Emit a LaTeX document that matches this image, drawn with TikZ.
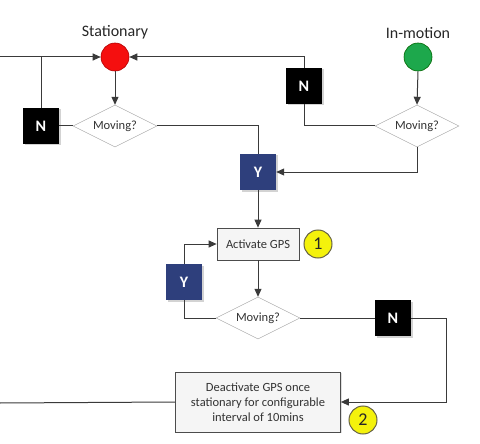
\documentclass[tikz,border=0pt]{standalone}
\usepackage{fontspec}
\setmainfont{Carlito}
\usetikzlibrary{shapes.geometric,arrows.meta,shadows}
\definecolor{linec}{HTML}{3A3A3A}
\definecolor{navyb}{HTML}{2E3F7C}
\definecolor{redc}{HTML}{F50F0F}
\definecolor{greenc}{HTML}{1DA84C}
\definecolor{yellc}{HTML}{F4F20C}
\tikzset{
  conn/.style={draw=linec, line width=1pt},
  arr/.style={conn, -{Triangle[length=8pt,width=7pt]}},
  statecirc/.style={circle, minimum size=28pt, inner sep=0pt, line width=0.6pt},
  decision/.style={diamond, aspect=2, minimum width=84pt, minimum height=42pt, inner sep=0pt,
    draw=gray!70, fill=white, font=\fontsize{12.5}{15}\selectfont, text=black!80},
  answer/.style={rectangle, minimum size=36pt, inner sep=0pt, text=white,
    font=\fontsize{16}{18}\selectfont\bfseries,
    drop shadow={shadow xshift=1.5pt, shadow yshift=-1.5pt, opacity=0.35}},
  nbox/.style={answer, fill=black},
  ybox/.style={answer, fill=navyb},
  process/.style={rectangle, draw=black!70, fill=black!4, line width=0.7pt,
    font=\fontsize{12.5}{15}\selectfont, text=black!80, align=center, inner sep=0pt,
    drop shadow={shadow xshift=1pt, shadow yshift=-1pt, opacity=0.25}},
  badge/.style={circle, minimum size=28pt, inner sep=0pt, fill=yellc, draw=black!55!yellow!70!black,
    line width=1pt, font=\fontsize{18}{20}\selectfont, text=black!85},
  title/.style={font=\fontsize{16}{19}\selectfont, text=black!85}
}
\begin{document}
\begin{tikzpicture}[x=1pt,y=-1pt]
\useasboundingbox (0,0) rectangle (480,444);
% states
\node[statecirc, fill=redc, draw=red!70!black] (stat) at (115,57) {};
\node[title] (statlbl) at (115,32) {Stationary};
\node[statecirc, fill=greenc, draw=green!40!black] (inmo) at (418,57) {};
\node[title] (inmolbl) at (418,33) {In-motion};
% decisions
\node[decision] (d1) at (115,126) {Moving?};
\node[decision] (d2) at (417,126) {Moving?};
\node[decision] (d3) at (258,318) {Moving?};
% answers
\node[nbox] (n1) at (41,126) {N};
\node[nbox] (n2) at (304,86) {N};
\node[nbox] (n3) at (393,318) {N};
\node[ybox] (y1) at (258,172) {Y};
\node[ybox] (y2) at (184,282) {Y};
% processes
\node[process, minimum width=82pt, minimum height=32pt] (act) at (258,244) {Activate GPS};
\node[badge] (b1) at (318,244) {1};
\node[process, minimum width=165pt, minimum height=60pt] (deact) at (258,402)
  {Deactivate GPS once\\stationary for configurable\\interval of 10mins};
\node[badge] (b2) at (363,420) {2};
% free ends
\coordinate (l1) at (0,57);
\coordinate (l2) at (0,403);
\coordinate (rc) at (446,318);
% connectors
\draw[arr] (l1) -- (stat.west);
\draw[conn] (n1.north) -- (n1.north |- stat);
\draw[conn] (n1.east) -- (d1.west);
\draw[arr] (stat.south) -- (d1.north);
\draw[conn] (d1.east) -| (y1.north);
\draw[arr] (n2.north) |- (stat.east);
\draw[conn] (d2.west) -| (n2.south);
\draw[arr] (inmo.south) -- (d2.north);
\draw[arr] (d2.south) |- (y1.east);
\draw[arr] (y1.south) -- (act.north);
\draw[arr] (act.south) -- (d3.north);
\draw[conn] (d3.west) -| (y2.south);
\draw[arr] (y2.north) |- (act.west);
\draw[conn] (d3.east) -- (n3.west);
\draw[arr] (n3.east) -- (rc) |- (deact.east);
\draw[conn] (deact.west) -- (l2);
\end{tikzpicture}
\end{document}
